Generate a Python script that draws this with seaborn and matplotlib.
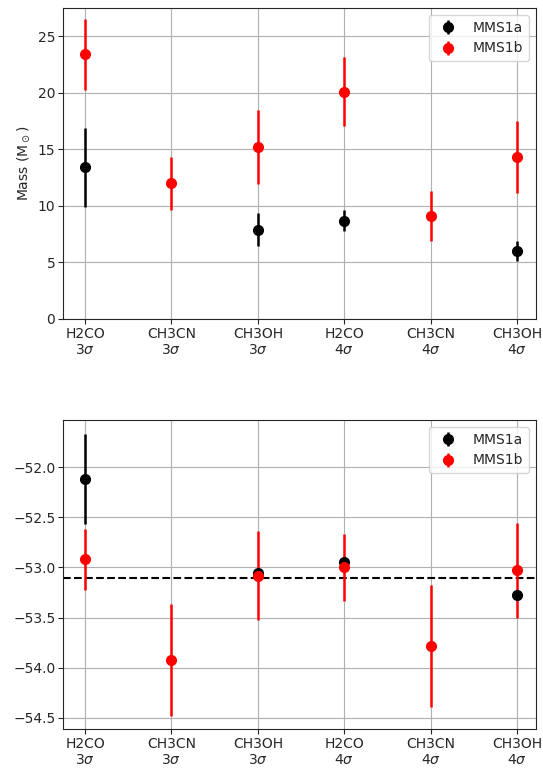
import matplotlib
matplotlib.use("Agg")
import matplotlib.pyplot as plt
import seaborn as sns
import numpy as np

sns.set_style("ticks")
plt.rcParams['font.family'] = ['DejaVu Sans']

labels = ["H2CO\n3$\\sigma$", "CH3CN\n3$\\sigma$", "CH3OH\n3$\\sigma$",
          "H2CO\n4$\\sigma$", "CH3CN\n4$\\sigma$", "CH3OH\n4$\\sigma$"]
mass_a = [13.4, np.nan, 7.9, 8.7, np.nan, 6.0]
mass_a_err = [3.5, 0, 1.45, 0.95, 0, 0.9]
mass_b = [23.4, 12.0, 15.2, 20.1, 9.1, 14.3]
mass_b_err = [3.15, 2.35, 3.25, 3.05, 2.2, 3.2]
vel_a = [-52.12, np.nan, -53.06, -52.95, np.nan, -53.27]
vel_a_err = [0.45, 0, 0.03, 0.03, 0, 0.03]
vel_b = [-52.92, -53.92, -53.08, -53.00, -53.78, -53.03]
vel_b_err = [0.30, 0.56, 0.44, 0.33, 0.61, 0.47]
v_sys = -53.1

fig = plt.figure(figsize=(5.43, 7.69), dpi=100)
ax1 = fig.add_axes([63/543, 1-319/769, 473/543, 311/769])
ax2 = fig.add_axes([63/543, 1-729/769, 473/543, 309/769])
x = np.arange(len(labels))

for ax, a, ae, b, be in [(ax1, mass_a, mass_a_err, mass_b, mass_b_err),
                         (ax2, vel_a, vel_a_err, vel_b, vel_b_err)]:
    ax.errorbar(x, a, yerr=ae, fmt='o', color='black', ecolor='black', lw=1.8, ms=7, label='MMS1a', zorder=3)
    ax.errorbar(x, b, yerr=be, fmt='o', color='red', ecolor='red', lw=1.8, ms=7, label='MMS1b', zorder=3)
    ax.set_xticks(x)
    ax.set_xticklabels(labels, fontsize=10)
    ax.grid(True, color='#b0b0b0', lw=0.8)
    ax.set_axisbelow(True)
    ax.set_xlim(-0.255, 5.22)
    ax.legend(loc='upper right', fontsize=10)
    ax.tick_params(labelsize=10, pad=2)

ax1.set_ylim(0, 27.5)
ax1.set_ylabel("Mass (M$_\\odot$)", fontsize=10)
ax2.set_ylim(-54.61, -51.53)
ax2.axhline(v_sys, color='black', ls='--', lw=1.5, zorder=2)
ax2.set_ylabel("Velocity V$_{\\rm LSR}$ (km s$^{-1}$)", fontsize=10)
ax2.yaxis.set_label_coords(-0.16, 0.5)

fig.savefig("out.png", dpi=100)
